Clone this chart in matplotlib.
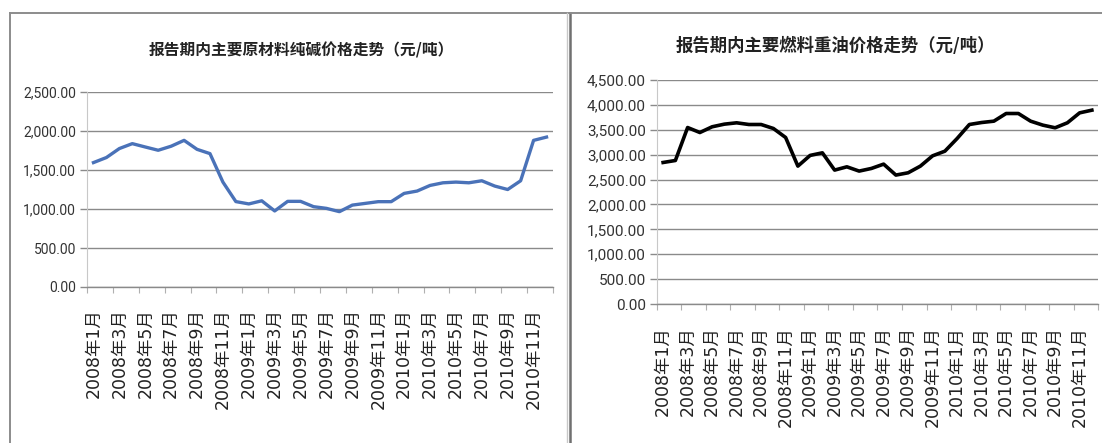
import matplotlib
matplotlib.use("Agg")
import matplotlib.pyplot as plt
from matplotlib import font_manager
from matplotlib.lines import Line2D
from matplotlib.ticker import FuncFormatter, FixedLocator
import numpy as np

# monthly data, 2008-01 .. 2010-12
months = [f"{y}年{m}月" for y in (2008, 2009, 2010) for m in range(1, 13)]

soda_ash = [1595, 1660, 1775, 1838, 1795, 1753, 1805, 1880, 1765, 1710,
            1345, 1095, 1065, 1105, 975, 1098, 1098, 1030, 1008, 966,
            1050, 1072, 1094, 1094, 1200, 1230, 1302, 1336, 1345, 1336,
            1362, 1294, 1250, 1362, 1880, 1922]

fuel_oil = [2843, 2883, 3545, 3445, 3560, 3613, 3640, 3606, 3606, 3526,
            3345, 2770, 2985, 3037, 2690, 2756, 2670, 2723, 2810, 2590,
            2636, 2770, 2977, 3070, 3325, 3606, 3646, 3673, 3827, 3827,
            3673, 3593, 3540, 3640, 3840, 3894]

titles = ["报告期内主要原材料纯碱价格走势（元/吨）",
          "报告期内主要燃料重油价格走势（元/吨）"]

installed = {f.name for f in font_manager.fontManager.ttflist}
num_font = next((f for f in ("Liberation Sans Narrow", "Roboto", "DejaVu Sans") if f in installed),
                "DejaVu Sans")
cjk = ["Noto Sans CJK SC", "DejaVu Sans"]
label_font = ["DejaVu Sans", "Noto Sans CJK SC"]

W, H = 1102, 443
fig = plt.figure(figsize=(W / 100, H / 100), dpi=100)


def px(x0, y_top, x1, y_bot):
    return [x0 / W, 1 - y_bot / H, (x1 - x0) / W, (y_bot - y_top) / H]


def draw(ax, values, color, lw, ymax, ystep, title, title_xy, title_size, num_size, pad):
    x = np.arange(len(values))
    ax.plot(x, values, color=color, lw=lw, solid_joinstyle="round", zorder=3)
    ax.set_xlim(-0.5, len(values) - 0.5)
    ax.set_ylim(0, ymax)
    ax.set_yticks(np.arange(0, ymax + 1, ystep))
    ax.yaxis.set_major_formatter(FuncFormatter(lambda v, p: f"{v:,.2f}"))
    ax.grid(axis="y", color="#8a8a8a", lw=1.0)
    ax.set_axisbelow(True)
    for s in ("top", "right"):
        ax.spines[s].set_visible(False)
    ax.spines["left"].set_color("#c8c8c8")
    ax.spines["bottom"].set_color("#8a8a8a")
    ax.spines["bottom"].set_linewidth(1.0)
    ax.tick_params(axis="y", length=5, width=1, color="#8a8a8a", pad=3,
                   labelsize=num_size, labelcolor="#333333")
    for t in ax.get_yticklabels():
        t.set_fontfamily(num_font)
    # tick marks between category pairs, labels on every other month
    ax.xaxis.set_major_locator(FixedLocator(np.arange(-0.5, len(values), 2)))
    ax.xaxis.set_major_formatter(FuncFormatter(lambda v, p: ""))
    ax.xaxis.set_minor_locator(FixedLocator(x[::2]))
    ax.set_xticks(x[::2], [months[i] for i in x[::2]], minor=True)
    ax.tick_params(axis="x", which="major", length=4, color="#b0b0b0")
    ax.tick_params(axis="x", which="minor", length=0, pad=pad, labelsize=12.5,
                   labelrotation=90, labelcolor="#222222")
    for t in ax.get_xticklabels(minor=True):
        t.set_fontfamily(label_font)
        t.set_verticalalignment("top")
    fig.text(title_xy[0] / W, 1 - title_xy[1] / H, title, ha="center", va="center",
             fontsize=title_size, family=cjk, fontweight="bold", color="#222222")


ax1 = fig.add_axes(px(87, 92, 553, 287))
draw(ax1, soda_ash, "#4a72b8", 2.4, 2500, 500, titles[0], (301, 50), 11.3, 10, 15)

ax2 = fig.add_axes(px(657, 80, 1098, 304))
draw(ax2, fuel_oil, "black", 2.6, 4500, 500, titles[1], (835, 46), 12.5, 11, 16)

# panel frames
frame = dict(transform=fig.transFigure, color="#8c8c8c", lw=1.4)
fig.add_artist(Line2D([10 / W, 10 / W], [0, 1 - 13 / H], **frame))
fig.add_artist(Line2D([10 / W, 567 / W], [1 - 13 / H] * 2, **frame))
fig.add_artist(Line2D([567 / W, 567 / W], [0, 1 - 13 / H], transform=fig.transFigure,
                      color="#c8c8c8", lw=1))
fig.add_artist(Line2D([569.5 / W, 569.5 / W], [0, 1 - 13 / H], transform=fig.transFigure,
                      color="#707070", lw=1.8))
fig.add_artist(Line2D([569 / W, 1], [1 - 13 / H] * 2, **frame))

fig.savefig("out.png", dpi=100)
